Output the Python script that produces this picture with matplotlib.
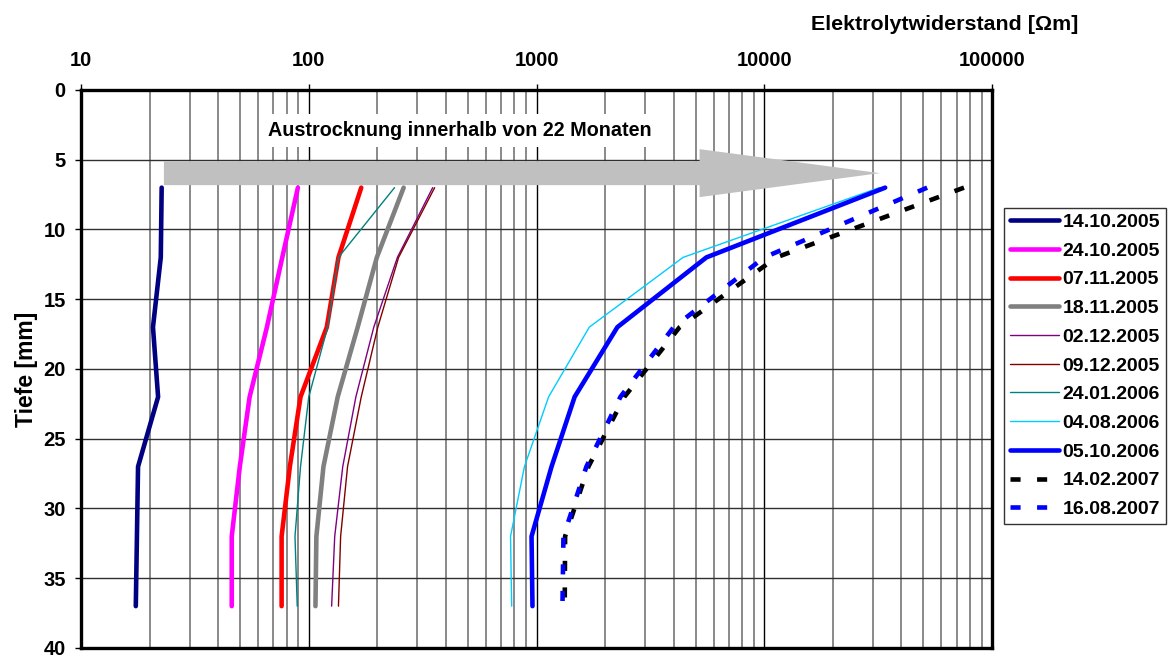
import numpy as np
import matplotlib
matplotlib.use("Agg")
import matplotlib.pyplot as plt
import matplotlib.patches as mpatches
from matplotlib.ticker import LogLocator, FixedLocator, NullFormatter

plt.rcParams['font.family'] = ['Liberation Sans', 'DejaVu Sans']
plt.rcParams['font.weight'] = 'bold'

# -----------------------------
# DATA
# -----------------------------
depth = [7, 12, 17, 22, 27, 32, 37]

labels = ["14.10.2005", "24.10.2005", "07.11.2005", "18.11.2005", "02.12.2005",
          "09.12.2005", "24.01.2006", "04.08.2006", "05.10.2006", "14.02.2007",
          "16.08.2007"]

r_141005 = [22.6, 22.4, 20.7, 21.8, 17.8, 17.6, 17.4]
r_241005 = [89.6, 76.5, 65.5, 55, 49.8, 45.9, 45.9]
r_071105 = [170, 135, 120, 92, 82.6, 76, 76]
r_181105 = [261, 199, 164, 134, 116, 108, 107]
r_021205 = [350, 245, 193, 161, 141, 130, 126]
r_091205 = [357, 248, 201, 170, 148, 138, 135]
r_240106 = [238, 135, 121, 100, 92, 87, 89]
r_040806 = [32000, 4400, 1705, 1130, 885, 769, 778]
r_051006 = [33950, 5570, 2265, 1470, 1164, 951, 960]
r_140207 = [75300, 11300, 4250, 2430, 1690, 1335, 1330]
r_160807 = [51900, 10000, 4000, 2335, 1656, 1313, 1300]

series = [r_141005, r_241005, r_071105, r_181105, r_021205, r_091205,
          r_240106, r_040806, r_051006, r_140207, r_160807]

colors = ["#000080", "#FF00FF", "#FF0000", "#808080", "#800080", "#800000",
          "#008080", "#00CCFF", "#0000FF", "#000000", "#0000FF"]
widths = [3.3, 3.3, 3.3, 3.3, 1.0, 1.0, 1.0, 1.0, 3.3, 3.3, 3.3]
styles = ["-"] * 9 + [(0, (2.2, 3.6)), (0, (2.2, 3.6))]

# -----------------------------
# FIGURE
# -----------------------------
fig = plt.figure(figsize=(11.69, 6.55), dpi=100)
ax = fig.add_axes([0.0693, 0.0107, 0.7793, 0.8519])

for vals, c, lw, ls, lab in zip(series, colors, widths, styles, labels):
    ax.plot(vals, depth, color=c, lw=lw, ls=ls, label=lab, zorder=3,
            solid_capstyle="round", dash_capstyle="butt")

ax.set_xscale("log")
ax.set_xlim(10, 100000)
ax.set_ylim(40, 0)

# ticks
ax.xaxis.tick_top()
ax.xaxis.set_major_locator(FixedLocator([10, 100, 1000, 10000, 100000]))
ax.set_xticklabels(["10", "100", "1000", "10000", "100000"])
ax.xaxis.set_minor_locator(LogLocator(base=10, subs=np.arange(2, 10)))
ax.xaxis.set_minor_formatter(NullFormatter())
ax.set_yticks(np.arange(0, 41, 5))
ax.tick_params(axis="x", which="major", direction="out", length=4, width=1,
               labelsize=14.5, pad=10.5)
ax.tick_params(axis="x", which="minor", length=0)
ax.tick_params(axis="y", direction="out", length=4, width=1, labelsize=14.5, pad=7)

# grid
ax.set_axisbelow(True)
ax.grid(which="minor", axis="x", color="#808080", lw=1.3)
ax.grid(which="major", axis="x", color="#000000", lw=1.0)
ax.grid(which="major", axis="y", color="#303030", lw=1.0)

for sp in ax.spines.values():
    sp.set_linewidth(2.4)
    sp.set_color("black")

ax.set_ylabel("Tiefe [mm]", fontsize=16.5, fontweight="bold", labelpad=4)
fig.text(0.808, 0.963, "Elektrolytwiderstand [\u03a9m]", ha="center", va="center",
         fontsize=15.4, fontweight="bold")

# drying arrow
arrow = mpatches.FancyArrow(0.091, 0.851, 0.786, 0.0, width=0.043,
                            head_width=0.086, head_length=0.198,
                            length_includes_head=True, transform=ax.transAxes,
                            color="#C0C0C0", lw=0, zorder=2.5)
ax.add_patch(arrow)
ax.text(0.416, 0.927, "Austrocknung innerhalb von 22 Monaten", transform=ax.transAxes,
        ha="center", va="center", fontsize=14.2, fontweight="bold", zorder=2.6,
        bbox=dict(facecolor="white", edgecolor="none", pad=5))

leg = fig.legend(loc="upper left", bbox_to_anchor=(0.859, 0.683),
                 fontsize=14, frameon=True, fancybox=False, handlelength=2.5,
                 handletextpad=0.2, labelspacing=0.57, borderpad=0.3,
                 borderaxespad=0)
leg.get_frame().set_edgecolor("black")
leg.get_frame().set_linewidth(1.0)
for t in leg.get_texts():
    t.set_fontweight("bold")

fig.savefig("out.png", dpi=100)
